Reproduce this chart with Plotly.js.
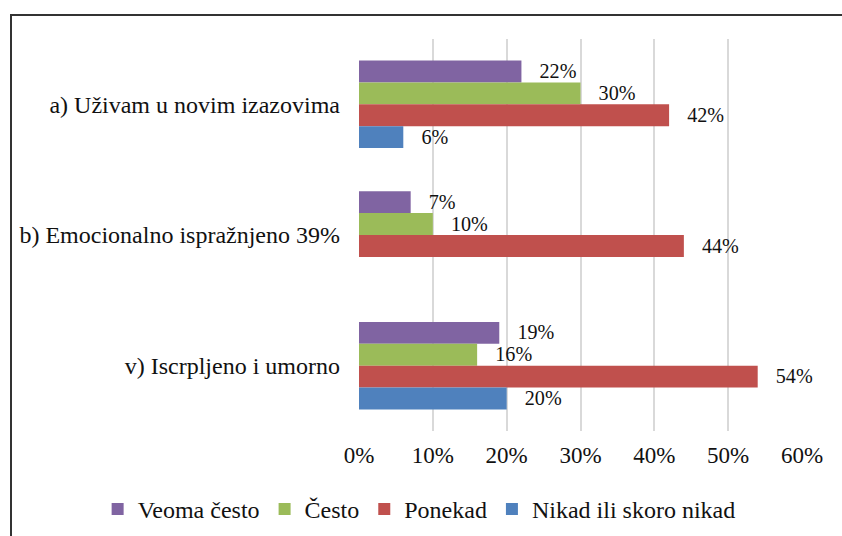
<!DOCTYPE html>
<html>
<head>
<meta charset="utf-8">
<script src="https://cdn.plot.ly/plotly-3.0.1.min.js"></script>
<style>
    body { margin: 0; background: #fff; }
    #graph { width: 842px; height: 536px; }
    #frame {
        position: absolute; left: 10px; top: 14px; width: 900px; height: 600px;
        border: 2px solid #333; pointer-events: none;
    }
</style>
</head>
<body>
<div id="frame"></div>
<div id="graph"></div>
<script>
var categories = ['a) Uživam u novim izazovima', 'b) Emocionalno ispražnjeno 39%', 'v) Iscrpljeno i umorno'];
var veoma_cesto = [22, 7, 19];
var cesto = [30, 10, 16];
var ponekad = [42, 44, 54];
var nikad = [6, null, 20];
var tick_values = [0, 10, 20, 30, 40, 50, 60];

function makeTrace(name, values, color) {
    return {
        type: 'bar',
        orientation: 'h',
        name: name,
        y: categories,
        x: values,
        marker: { color: color },
        // small gap between bar end and label, like the original
        text: values.map(v => v === null ? '' : '\u00a0\u00a0\u00a0' + v + '%'),
        textposition: 'outside',
        cliponaxis: false,
        textfont: { family: 'Liberation Serif', size: 23, color: '#111' },
    };
}

var data = [
    makeTrace('Veoma često', veoma_cesto, '#8064A2'),
    makeTrace('Često', cesto, '#9BBB59'),
    makeTrace('Ponekad', ponekad, '#C0504D'),
    makeTrace('Nikad ili skoro nikad', nikad, '#4F81BD'),
];

var layout = {
    width: 842,
    height: 536,
    margin: { l: 359, r: 40, t: 39, b: 105, autoexpand: false },
    barmode: 'group',
    bargap: 0.33,
    bargroupgap: 0,
    paper_bgcolor: 'rgba(0,0,0,0)',
    plot_bgcolor: 'rgba(0,0,0,0)',
    font: { family: 'Liberation Serif', size: 23, color: '#111' },
    xaxis: {
        range: [0, 60],
        tickvals: tick_values,
        ticktext: tick_values.map(v => v + '%'),
        showgrid: true,
        gridcolor: '#d9d9d9',
        gridwidth: 2,
        zeroline: false,
        showline: false,
        ticks: '',
        ticklabelstandoff: 8,
        tickfont: { size: 23 },
    },
    yaxis: {
        autorange: 'reversed',
        showgrid: false,
        zeroline: false,
        showline: false,
        ticks: '',
        ticklabelstandoff: 18,
        tickfont: { size: 24 },
    },
    showlegend: true,
    legend: {
        orientation: 'h',
        x: -0.59,
        xanchor: 'left',
        y: -0.2,
        yanchor: 'middle',
        traceorder: 'normal',
        font: { size: 24 },
        itemwidth: 30,
    },
};

Plotly.newPlot('graph', data, layout, { displayModeBar: false, staticPlot: true });
</script>
</body>
</html>
